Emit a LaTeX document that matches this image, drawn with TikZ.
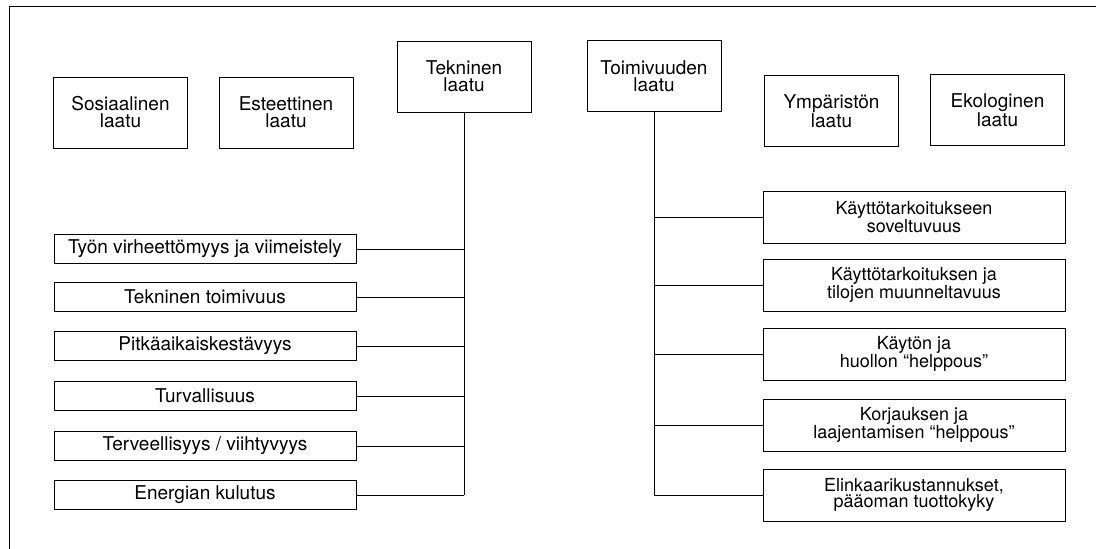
\documentclass[tikz,border=0pt]{standalone}
\usepackage{fontspec}
\setmainfont{TeX Gyre Heros}
\usetikzlibrary{shapes}

\tikzset{
  box/.style={shape=rectangle,draw=black,align=center,line width=0.8pt,inner sep=1pt,
    font=\fontsize{19}{17}\selectfont},
  mainbox/.style={box,minimum width=134pt,minimum height=71pt},
  leftbox/.style={box,minimum width=302pt,minimum height=29pt},
  rightbox/.style={box,minimum width=302pt,minimum height=52pt,
    font=\fontsize{18}{16}\selectfont},
}

\begin{document}
\begin{tikzpicture}[x=1pt,y=-1pt]
\useasboundingbox (0,0) rectangle (1096,549);
\draw[line width=0.8pt] (1096,6) -- (9,6) -- (9,549);

\node[mainbox] (0) at (120.5,112.5) {Sosiaalinen\\laatu};
\node[mainbox] (1) at (286,112.5) {Esteettinen\\laatu};
\node[mainbox] (2) at (464,76.5) {Tekninen\\laatu};
\node[mainbox] (3) at (654,76) {Toimivuuden\\laatu};
\node[mainbox] (4) at (831.5,111) {Ympäristön\\laatu};
\node[mainbox] (5) at (997.5,110) {Ekologinen\\laatu};

\node[leftbox] (6) at (205,249) {Työn virheettömyys ja viimeistely};
\node[leftbox] (7) at (205,297) {Tekninen toimivuus};
\node[leftbox] (8) at (205,346) {Pitkäaikaiskestävyys};
\node[leftbox] (9) at (205,396) {Turvallisuus};
\node[leftbox] (10) at (205,446) {Terveellisyys / viihtyvyys};
\node[leftbox] (11) at (205,495) {Energian kulutus};

\node[rightbox] (12) at (914,217) {Käyttötarkoitukseen\\soveltuvuus};
\node[rightbox] (13) at (914,285) {Käyttötarkoituksen ja\\tilojen muunneltavuus};
\node[rightbox] (14) at (914,354) {Käytön ja\\huollon “helppous”};
\node[rightbox] (15) at (914,425) {Korjauksen ja\\laajentamisen “helppous”};
\node[rightbox] (16) at (914,495) {Elinkaarikustannukset,\\pääoman tuottokyky};

\path [-,draw=black,line width=0.8pt] (2) edge (2.south |- 11.east);
\foreach \n in {6,...,11}
  \path [-,draw=black,line width=0.8pt] (\n.east) edge (\n.east -| 2.south);

\path [-,draw=black,line width=0.8pt] (3) edge (3.south |- 16.west);
\foreach \n in {12,...,16}
  \path [-,draw=black,line width=0.8pt] (\n.west) edge (\n.west -| 3.south);
\end{tikzpicture}
\end{document}
